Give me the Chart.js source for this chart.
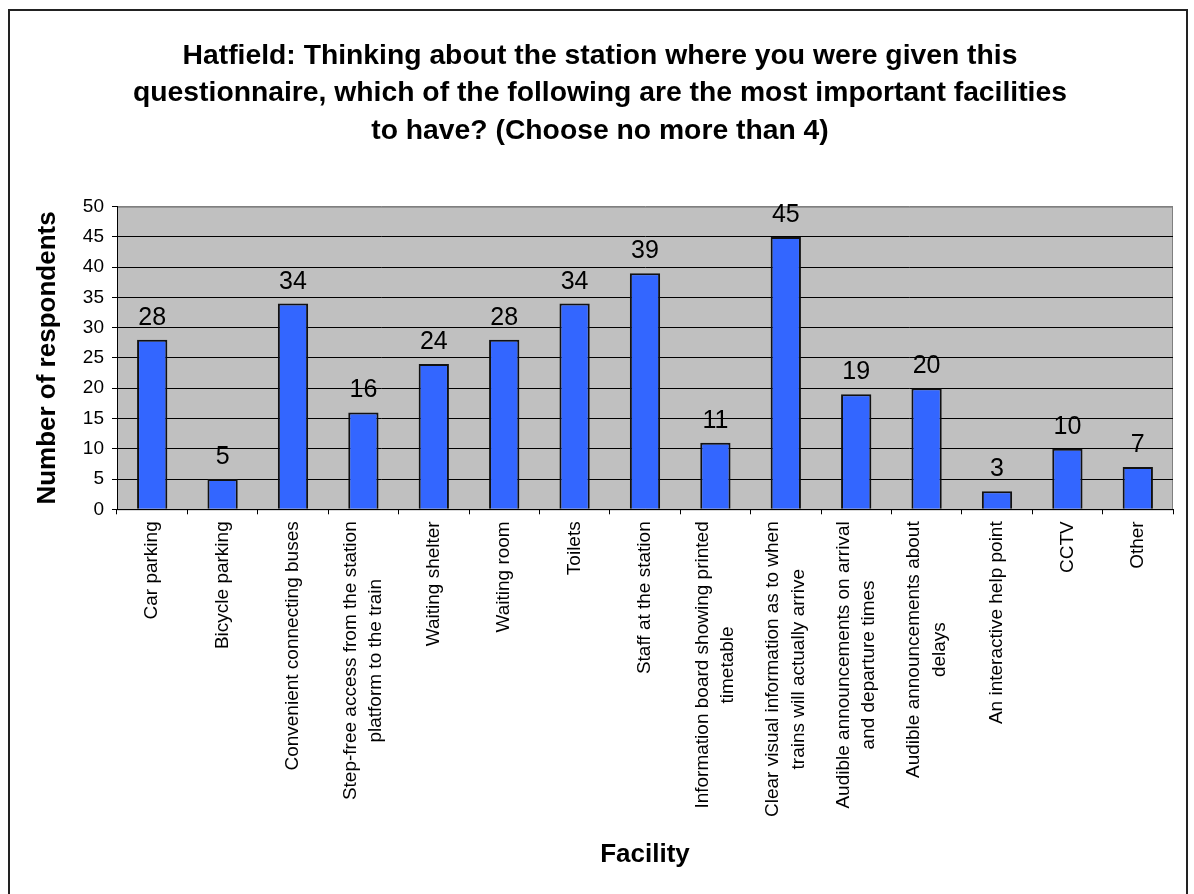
<!DOCTYPE html>
<html lang="en">
<head>
    <meta charset="UTF-8">
    <title>Hatfield facilities</title>
    <script src="https://cdn.jsdelivr.net/npm/chart.js"></script>
    <style>
        body {
            margin: 0;
            background-color: white;
        }
        #wrap {
            width: 1194px;
            height: 894px;
        }
    </style>
</head>
<body>
    <div id="wrap">
        <canvas id="facilityChart" width="1194" height="894"></canvas>
    </div>
    <script>
        const chartTitle = [
            'Hatfield: Thinking about the station where you were given this',
            'questionnaire, which of the following are the most important facilities',
            'to have? (Choose no more than 4)'
        ];
        const facilities = [
            'Car parking',
            'Bicycle parking',
            'Convenient connecting buses',
            ['Step-free access from the station', 'platform to the train'],
            'Waiting shelter',
            'Waiting room',
            'Toilets',
            'Staff at the station',
            ['Information board showing printed', 'timetable'],
            ['Clear visual information as to when', 'trains will actually arrive'],
            ['Audible announcements on arrival', 'and departure times'],
            ['Audible announcements about', 'delays'],
            'An interactive help point',
            'CCTV',
            'Other'
        ];
        const respondents = [28, 5, 34, 16, 24, 28, 34, 39, 11, 45, 19, 20, 3, 10, 7];
        const yTicks = [0, 5, 10, 15, 20, 25, 30, 35, 40, 45, 50];

        const FONT = '"Liberation Sans", Arial, sans-serif';

        // white page, grey plot area, outer frame
        const backdrop = {
            id: 'backdrop',
            beforeDraw(chart) {
                const { ctx, chartArea: a } = chart;
                ctx.save();
                ctx.fillStyle = '#fff';
                ctx.fillRect(0, 0, chart.width, chart.height);
                ctx.fillStyle = '#c0c0c0';
                ctx.fillRect(a.left, a.top, a.right - a.left, a.bottom - a.top);
                ctx.strokeStyle = '#808080';
                ctx.lineWidth = 1;
                ctx.strokeRect(a.left + 0.5, a.top + 0.5, a.right - a.left - 1, a.bottom - a.top);
                ctx.strokeStyle = '#222';
                ctx.lineWidth = 2;
                ctx.strokeRect(9, 10, 1178, 1000);
                ctx.restore();
            }
        };

        // numbers above the bars
        const valueLabels = {
            id: 'valueLabels',
            afterDatasetsDraw(chart) {
                const ctx = chart.ctx;
                const meta = chart.getDatasetMeta(0);
                ctx.save();
                ctx.font = '25px ' + FONT;
                ctx.fillStyle = '#000';
                ctx.textAlign = 'center';
                ctx.textBaseline = 'alphabetic';
                meta.data.forEach((bar, i) => {
                    ctx.fillText(respondents[i], bar.x, bar.y - 15);
                });
                ctx.restore();
            }
        };

        // rotated category labels, lines centred on each other like Excel
        const categoryLabels = {
            id: 'categoryLabels',
            afterDraw(chart) {
                const ctx = chart.ctx;
                const scale = chart.scales.x;
                const lh = 25.5;
                ctx.save();
                ctx.font = '19px ' + FONT;
                ctx.fillStyle = '#000';
                ctx.textAlign = 'center';
                ctx.textBaseline = 'middle';
                scale.ticks.forEach((t, i) => {
                    const lines = [].concat(facilities[i]);
                    const w = Math.max(...lines.map(l => ctx.measureText(l).width));
                    ctx.save();
                    ctx.translate(scale.getPixelForTick(i), scale.top + 12);
                    ctx.rotate(-Math.PI / 2);
                    lines.forEach((l, j) => {
                        ctx.fillText(l, -w / 2, (j - (lines.length - 1) / 2) * lh);
                    });
                    ctx.restore();
                });
                ctx.restore();
            }
        };

        new Chart(document.getElementById('facilityChart'), {
            type: 'bar',
            data: {
                labels: facilities,
                datasets: [{
                    data: respondents,
                    backgroundColor: '#3366ff',
                    borderColor: '#111',
                    borderWidth: 2,
                    barPercentage: 0.43,
                    categoryPercentage: 1
                }]
            },
            options: {
                responsive: false,
                animation: false,
                layout: {
                    padding: { left: 27, right: 21, top: 0, bottom: 0 }
                },
                plugins: {
                    legend: { display: false },
                    tooltip: { enabled: false },
                    title: {
                        display: true,
                        text: chartTitle,
                        color: '#000',
                        font: { family: FONT, size: 28.3, weight: 'bold', lineHeight: 1.325 },
                        padding: { top: 37, bottom: 57.2 }
                    }
                },
                scales: {
                    x: {
                        afterFit(scale) { scale.height = 384.7; },
                        grid: {
                            drawOnChartArea: false,
                            drawTicks: true,
                            tickLength: 5,
                            color: '#000',
                            offset: true
                        },
                        border: { color: '#000', width: 1 },
                        ticks: { display: false, autoSkip: false },
                        title: {
                            display: true,
                            text: 'Facility',
                            color: '#000',
                            font: { family: FONT, size: 26, weight: 'bold', lineHeight: 1.2 },
                            padding: { top: 0, bottom: 24 }
                        }
                    },
                    y: {
                        min: 0,
                        max: 50,
                        afterFit(scale) { scale.width = 90; },
                        afterBuildTicks(scale) {
                            scale.ticks = yTicks.map(v => ({ value: v }));
                        },
                        grid: {
                            color: c => (c.tick && c.tick.value === 50) ? '#808080' : '#000',
                            tickColor: '#000',
                            lineWidth: 1,
                            tickLength: 5
                        },
                        border: { color: '#000', width: 1 },
                        ticks: {
                            color: '#000',
                            padding: 8,
                            font: { family: FONT, size: 19 }
                        },
                        title: {
                            display: true,
                            text: 'Number of respondents',
                            color: '#000',
                            font: { family: FONT, size: 26, weight: 'bold', lineHeight: 1.2 },
                            padding: { top: 5, bottom: 0 }
                        }
                    }
                }
            },
            plugins: [backdrop, valueLabels, categoryLabels]
        });
    </script>
</body>
</html>
